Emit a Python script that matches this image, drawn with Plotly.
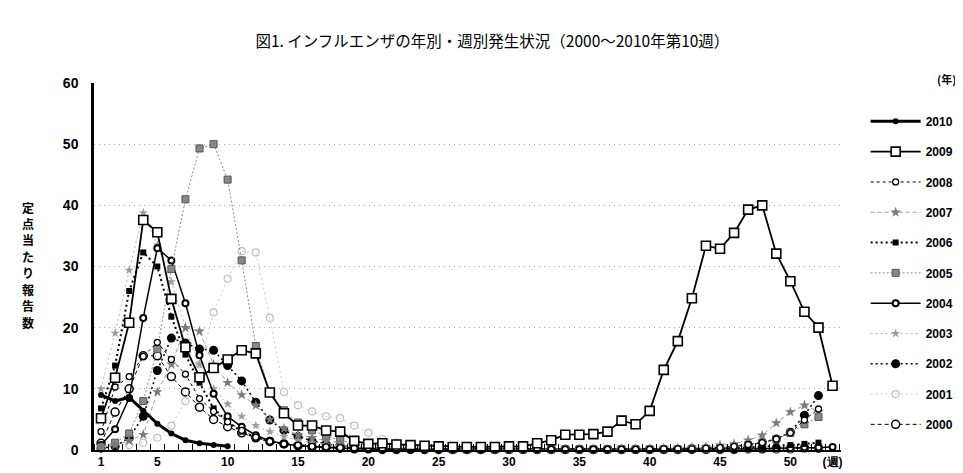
import plotly.graph_objects as go

# ---- data (per-report counts per sentinel site, by week) ----
y2010 = [9.0, 8.0, 8.6, 6.4, 4.3, 2.7, 1.6, 1.1, 0.8, 0.6]

y2009 = [5.2, 11.8, 20.8, 37.6, 35.6, 24.7, 16.8, 11.9, 13.4, 14.8,
         16.3, 15.8, 9.4, 6.0, 4.0, 4.0, 3.2, 3.0, 1.5, 1.0,
         1.1, 0.9, 0.8, 0.7, 0.6, 0.5, 0.5, 0.5, 0.5, 0.6,
         0.6, 1.1, 1.6, 2.5, 2.5, 2.6, 3.0, 4.8, 4.2, 6.4,
         13.1, 17.8, 24.8, 33.4, 32.9, 35.5, 39.3, 40.0, 32.1, 27.6,
         22.6, 20.0, 10.5]

y2008 = [3.0, 10.3, 12.0, 15.3, 17.6, 14.8, 12.4, 8.4, 6.3, 4.6,
         3.2, 2.1, 1.4, 1.0, 0.8, 0.6, 0.5, 0.4, 0.3, 0.3,
         0.2, 0.2, 0.2, 0.1, 0.1, 0.1, 0.1, 0.1, 0.1, 0.1,
         0.1, 0.1, 0.1, 0.1, 0.1, 0.1, 0.1, 0.1, 0.1, 0.1,
         0.2, 0.2, 0.2, 0.3, 0.4, 0.6, 0.9, 1.2, 1.8, 2.8,
         4.9, 6.7]

y2007 = [0.5, 0.8, 1.5, 2.5, 9.5, 14.0, 20.0, 19.4, 14.0, 11.0,
         9.0, 7.3, 5.0, 3.5, 2.5, 2.0, 1.5, 1.2, 1.0, 0.8,
         0.6, 0.5, 0.4, 0.3, 0.2, 0.2, 0.1, 0.1, 0.1, 0.1,
         0.1, 0.1, 0.1, 0.1, 0.1, 0.1, 0.1, 0.2, 0.2, 0.2,
         0.3, 0.3, 0.4, 0.5, 0.8, 1.0, 1.6, 2.4, 4.4, 6.2,
         7.3, 6.3]

y2006 = [6.8, 13.8, 26.0, 32.3, 30.0, 21.8, 15.6, 11.0, 6.8, 4.6,
         3.0, 2.0, 1.4, 1.0, 0.8, 0.6, 0.5, 0.4, 0.3, 0.2,
         0.2, 0.1, 0.1, 0.1, 0.1, 0.1, 0.1, 0.1, 0.1, 0.1,
         0.1, 0.1, 0.1, 0.1, 0.1, 0.1, 0.1, 0.1, 0.1, 0.1,
         0.1, 0.1, 0.1, 0.2, 0.2, 0.3, 0.4, 0.5, 0.6, 0.8,
         1.0, 1.2]

y2005 = [0.5, 1.2, 2.7, 8.0, 16.5, 29.6, 41.0, 49.3, 50.0, 44.2,
         31.0, 17.0, 9.4, 6.5, 4.5, 3.2, 2.3, 1.6, 1.1, 0.8,
         0.6, 0.4, 0.3, 0.2, 0.2, 0.1, 0.1, 0.1, 0.1, 0.1,
         0.1, 0.1, 0.1, 0.1, 0.1, 0.1, 0.1, 0.1, 0.1, 0.1,
         0.1, 0.1, 0.2, 0.2, 0.3, 0.5, 0.8, 1.2, 1.8, 2.8,
         4.2, 5.4]

y2004 = [0.8, 3.4, 8.5, 21.6, 33.0, 31.0, 24.0, 15.5, 9.2, 5.5,
         3.8, 2.4, 1.5, 1.0, 0.7, 0.5, 0.4, 0.3, 0.2, 0.2,
         0.1, 0.1, 0.1, 0.1, 0.1, 0.1, 0.1, 0.1, 0.1, 0.1,
         0.1, 0.1, 0.1, 0.1, 0.1, 0.1, 0.1, 0.1, 0.1, 0.1,
         0.1, 0.1, 0.1, 0.1, 0.1, 0.1, 0.2, 0.2, 0.3, 0.3,
         0.4, 0.4, 0.5]

y2003 = [10.0, 19.1, 29.4, 38.8, 33.5, 27.5, 20.0, 14.0, 10.0, 7.5,
         5.5, 4.0, 3.0, 2.2, 1.6, 1.2, 0.9, 0.7, 0.5, 0.4,
         0.3, 0.2, 0.2, 0.1, 0.1, 0.1, 0.1, 0.1, 0.1, 0.1,
         0.1, 0.1, 0.1, 0.1, 0.1, 0.1, 0.1, 0.1, 0.1, 0.1,
         0.1, 0.1, 0.1, 0.1, 0.2, 0.2, 0.3, 0.4, 0.5, 0.6,
         0.7, 0.8]

y2002 = [0.3, 0.6, 2.0, 5.5, 13.0, 18.3, 17.5, 16.5, 16.3, 13.8,
         11.3, 7.8, 4.9, 3.2, 2.2, 1.5, 1.0, 0.7, 0.5, 0.4,
         0.3, 0.2, 0.2, 0.1, 0.1, 0.1, 0.1, 0.1, 0.1, 0.1,
         0.1, 0.1, 0.1, 0.1, 0.1, 0.1, 0.1, 0.1, 0.1, 0.1,
         0.1, 0.1, 0.2, 0.2, 0.3, 0.5, 0.8, 1.2, 1.8, 2.9,
         5.7, 8.9]

y2001 = [0.3, 0.5, 0.8, 1.2, 2.0, 4.0, 8.0, 14.0, 22.5, 28.0,
         32.5, 32.3, 21.6, 9.5, 7.3, 6.3, 5.5, 5.2, 4.0, 2.8,
         1.8, 1.2, 0.8, 0.5, 0.4, 0.3, 0.2, 0.2, 0.1, 0.1,
         0.1, 0.1, 0.1, 0.1, 0.1, 0.1, 0.1, 0.1, 0.1, 0.1,
         0.1, 0.1, 0.1, 0.1, 0.1, 0.1, 0.1, 0.2, 0.2, 0.2,
         0.2, 0.3]

y2000 = [1.1, 6.2, 10.0, 15.4, 15.4, 12.0, 9.5, 7.0, 5.0, 3.8,
         2.8, 2.0, 1.4, 1.0, 0.7, 0.5, 0.4, 0.3, 0.2, 0.2,
         0.1, 0.1, 0.1, 0.1, 0.1, 0.1, 0.1, 0.1, 0.1, 0.1,
         0.1, 0.1, 0.1, 0.1, 0.1, 0.1, 0.1, 0.1, 0.1, 0.1,
         0.1, 0.1, 0.1, 0.1, 0.1, 0.1, 0.2, 0.2, 0.2, 0.2,
         0.3, 0.3]

x_tick_vals = [1, 5, 10, 15, 20, 25, 30, 35, 40, 45, 50, 53]
x_tick_text = ["1", "5", "10", "15", "20", "25", "30", "35", "40", "45", "50", "(週)"]
y_tick_vals = [0, 10, 20, 30, 40, 50, 60]

title_text = "図1. インフルエンザの年別・週別発生状況（2000〜2010年第10週）"
ytitle_text = "定点当たり報告数"

# ---- styles ----
series = [
    ("2000", y2000, dict(color="black", width=1, dash="4px,3px"),
     dict(symbol="circle", size=8, color="white", line=dict(color="black", width=1.5))),
    ("2001", y2001, dict(color="#cccccc", width=1, dash="2px,3px"),
     dict(symbol="circle-open", size=7, color="#c0c0c0", line=dict(width=1.2))),
    ("2002", y2002, dict(color="black", width=1.5, dash="2px,3px"),
     dict(symbol="circle", size=9, color="black")),
    ("2003", y2003, dict(color="#b4b4b4", width=1, dash="2px,3px"),
     dict(symbol="star", size=7, color="#9c9c9c")),
    ("2004", y2004, dict(color="black", width=1.5),
     dict(symbol="circle", size=6, color="white", line=dict(color="black", width=2))),
    ("2005", y2005, dict(color="#8a8a8a", width=1, dash="2px,2px"),
     dict(symbol="square", size=7, color="#888888", line=dict(color="#555555", width=1))),
    ("2006", y2006, dict(color="black", width=2, dash="2px,3px"),
     dict(symbol="square", size=6, color="black")),
    ("2007", y2007, dict(color="#9a9a9a", width=1, dash="4px,3px"),
     dict(symbol="star", size=8, color="#7a7a7a")),
    ("2008", y2008, dict(color="black", width=1, dash="3px,3px"),
     dict(symbol="circle", size=6, color="white", line=dict(color="black", width=1.3))),
    ("2009", y2009, dict(color="black", width=1.8),
     dict(symbol="square", size=9, color="white", line=dict(color="black", width=1.6))),
    ("2010", y2010, dict(color="black", width=3),
     dict(symbol="circle", size=6, color="black")),
]

fig = go.Figure()
n_series = len(series)
for i, (name, vals, line, marker) in enumerate(series):
    fig.add_trace(go.Scatter(
        x=list(range(1, len(vals) + 1)), y=vals, name=name,
        mode="lines+markers", line=line, marker=marker,
        legendgroup=name, legendrank=n_series - i, cliponaxis=False,
    ))

bold = dict(family="Liberation Sans, Arial, sans-serif", color="black", weight="bold")

# vertical (stacked) y-axis title, one character per annotation
char_step = 16.7 / 372.0
ytitle_annots = [
    dict(text=ch, xref="paper", yref="paper", x=-0.088,
         y=0.505 + (len(ytitle_text) / 2 - 0.5 - k) * char_step,
         xanchor="center", yanchor="middle", showarrow=False,
         font=dict(family="Noto Sans CJK JP", size=12, color="black", weight="bold"))
    for k, ch in enumerate(ytitle_text)
]

fig.update_layout(
    width=963, height=473,
    margin=dict(l=86, r=123, t=75, b=26),
    paper_bgcolor="white", plot_bgcolor="white",
    title=dict(text=title_text, x=0.503, xanchor="center", y=0.93, yanchor="middle",
               font=dict(family="Noto Sans CJK JP", size=15.5, color="black")),
    showlegend=True,
    legend=dict(x=1.033, xanchor="left", y=0.935, yanchor="top",
                traceorder="grouped", tracegroupgap=11.3,
                itemwidth=50, bgcolor="rgba(0,0,0,0)",
                font=dict(size=12, **bold)),
    xaxis=dict(range=[0.5, 53.6], tickmode="array", tickvals=x_tick_vals,
               ticktext=x_tick_text, showgrid=False, zeroline=False,
               showline=True, linecolor="black", linewidth=1.5,
               ticks="", tickfont=dict(size=12, **bold),
               minor=dict(tickmode="array",
                          tickvals=[k + 0.5 for k in range(0, 54)],
                          ticks="inside", ticklen=6, tickcolor="black",
                          showgrid=False)),
    yaxis=dict(range=[0, 60], tickmode="array", tickvals=y_tick_vals,
               showgrid=True, gridcolor="#a8a8a8", gridwidth=1, griddash="1px,4px",
               zeroline=False, showline=True, linecolor="black", linewidth=2.5,
               ticks="", ticklabelstandoff=10, tickfont=dict(size=14, **bold)),
    annotations=ytitle_annots + [
        dict(text="(年)", xref="paper", yref="paper", x=1.157, y=1.012,
             xanchor="right", yanchor="middle", showarrow=False,
             font=dict(family="Noto Sans CJK JP", size=11, color="black", weight="bold")),
    ],
)

fig.write_html("out.html")
